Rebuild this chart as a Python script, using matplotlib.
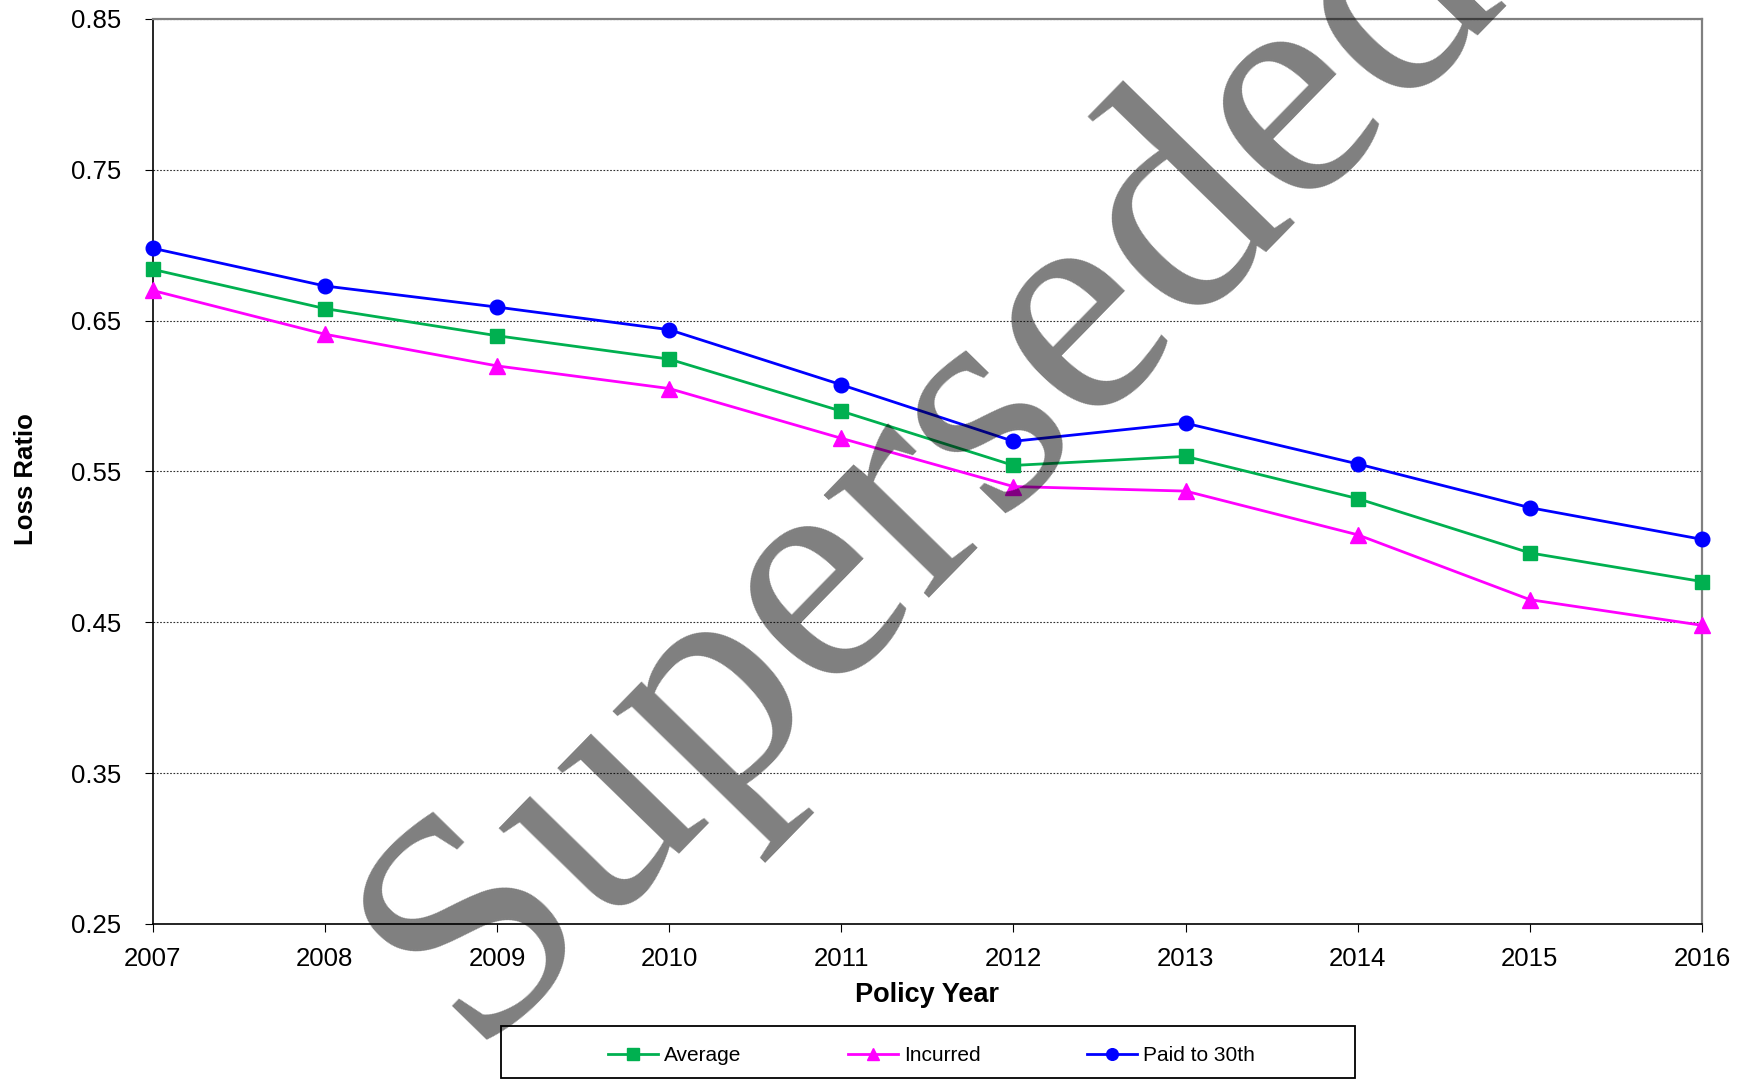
import matplotlib
matplotlib.use('Agg')
import matplotlib.pyplot as plt
from matplotlib.patches import Rectangle

years = [2007, 2008, 2009, 2010, 2011, 2012, 2013, 2014, 2015, 2016]
average = [0.684, 0.658, 0.640, 0.6245, 0.590, 0.554, 0.560, 0.532, 0.496, 0.477]
incurred = [0.670, 0.641, 0.620, 0.605, 0.572, 0.540, 0.537, 0.508, 0.465, 0.448]
paid_30th = [0.698, 0.673, 0.659, 0.644, 0.6075, 0.570, 0.582, 0.555, 0.526, 0.505]
y_ticks = [0.25, 0.35, 0.45, 0.55, 0.65, 0.75, 0.85]
y_tick_labels = ["0.25", "0.35", "0.45", "0.55", "0.65", "0.75", "0.85"]
series_names = ["Average", "Incurred", "Paid to 30th"]
watermark = "Superseded"

plt.rcParams['font.family'] = ['Liberation Sans', 'DejaVu Sans']

fig = plt.figure(figsize=(17.45, 10.79), dpi=100)
ax = fig.add_axes([0.0875, 0.1437, 0.8879, 0.8387])

ax.plot(years, average, color='#00B050', lw=2, marker='s', ms=10.5,
        label=series_names[0], clip_on=False, zorder=3)
ax.plot(years, incurred, color='#FF00FF', lw=2, marker='^', ms=11,
        label=series_names[1], clip_on=False, zorder=3)
ax.plot(years, paid_30th, color='#0000FF', lw=2, marker='o', ms=10.5,
        label=series_names[2], clip_on=False, zorder=3)

ax.set_xlim(years[0], years[-1])
ax.set_ylim(y_ticks[0], y_ticks[-1])
ax.set_xticks(years)
ax.set_xticklabels([str(y) for y in years])
ax.set_yticks(y_ticks)
ax.set_yticklabels(y_tick_labels)

ax.grid(axis='y', color='#303030', lw=0.8, ls=(0, (1.5, 1.5)), zorder=1)
ax.set_axisbelow(True)

for s in ['left', 'bottom']:
    ax.spines[s].set_color('black')
    ax.spines[s].set_linewidth(1.2)
for s in ['top', 'right']:
    ax.spines[s].set_color('#808080')
    ax.spines[s].set_linewidth(1.6)

ax.tick_params(axis='y', direction='out', length=6, width=0.8, pad=16.5,
               labelsize=18.5, colors='black')
ax.tick_params(axis='x', direction='out', length=6, width=0.8, pad=10.5,
               labelsize=18.5, colors='black')

ax.set_xlabel('Policy Year', fontsize=19.5, fontweight='bold')
ax.xaxis.set_label_coords(0.5, -0.064)
ax.set_ylabel('Loss Ratio', fontsize=18.5, fontweight='bold')
ax.yaxis.set_label_coords(-0.0737, 0.492)

# legend frame
fig.patches.append(Rectangle((0.2871, 0.001), 0.4894, 0.0482,
                             transform=fig.transFigure, fill=False,
                             edgecolor='black', lw=1.3, zorder=5))
handles, labels = ax.get_legend_handles_labels()
fig.legend(handles, labels, loc='center', bbox_to_anchor=(0.5338, 0.0218),
           ncol=3, frameon=False, fontsize=15, handlelength=2.4,
           handletextpad=0.3, columnspacing=5.1, markerscale=0.8)

fig.text(0.2699, 0.0306, watermark, rotation=45.7, rotation_mode='anchor',
         ha='left', va='baseline', fontsize=231,
         family=['Liberation Serif', 'DejaVu Serif'],
         color='black', alpha=0.5, zorder=10)

fig.savefig('out.png', dpi=100)
